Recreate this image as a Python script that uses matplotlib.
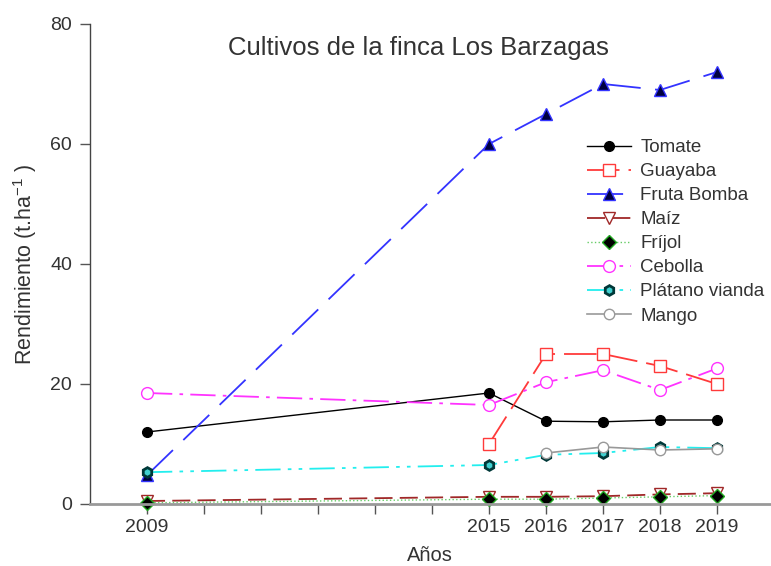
import matplotlib
matplotlib.use("Agg")
import matplotlib.pyplot as plt

# Yields (t/ha)
years = [2009, 2015, 2016, 2017, 2018, 2019]
years_late = [2015, 2016, 2017, 2018, 2019]
years_mango = [2016, 2017, 2018, 2019]

tomate = [12.0, 18.5, 13.8, 13.7, 14.0, 14.0]
guayaba = [10.0, 25.0, 25.0, 23.0, 20.0]
fruta_bomba = [4.8, 60.0, 65.0, 70.0, 69.0, 72.0]
maiz = [0.5, 1.2, 1.2, 1.3, 1.6, 1.8]
frijol = [0.2, 0.8, 0.8, 1.0, 1.2, 1.4]
cebolla = [18.5, 16.5, 20.3, 22.3, 19.0, 22.6]
platano = [5.3, 6.5, 8.2, 8.5, 9.5, 9.3]
mango = [8.5, 9.5, 9.0, 9.2]

x_ticks = list(range(2009, 2020))
x_labels = ["2009", "", "", "", "", "", "2015", "2016", "2017", "2018", "2019"]
y_ticks = [0, 20, 40, 60, 80]

plt.rcParams["font.family"] = ["Liberation Sans", "DejaVu Sans"]
plt.rcParams["mathtext.fontset"] = "custom"
plt.rcParams["mathtext.rm"] = "Liberation Sans"
plt.rcParams["mathtext.it"] = "Liberation Sans"

TEXT = "#333333"

fig = plt.figure(figsize=(7.71, 5.66), dpi=100)
ax = fig.add_axes([90 / 771, 62 / 566, 680 / 771, 480 / 566])

ax.plot(years, tomate, color="black", linewidth=1.0, marker="o",
        markersize=7, markerfacecolor="black", markeredgecolor="black",
        label="Tomate")
ax.plot(years_late, guayaba, color="#ff3a3a", linewidth=1.3,
        dashes=(18, 5), marker="s", markersize=8.5, markerfacecolor="white",
        markeredgecolor="#ff3a3a", markeredgewidth=1.0, label="Guayaba")
ax.plot(years, fruta_bomba, color="#3333ff", linewidth=1.3,
        dashes=(20, 8), marker="^", markersize=8, markerfacecolor="#000040",
        markeredgecolor="#3333ff", markeredgewidth=1.0, label="Fruta Bomba")
ax.plot(years, maiz, color="#a02828", linewidth=1.3, dashes=(10, 4),
        marker="v", markersize=8, markerfacecolor="white",
        markeredgecolor="#a02828", label="Maíz")
ax.plot(years, frijol, color="#66cc66", linewidth=1.0, linestyle=":",
        marker="D", markersize=7, markerfacecolor="black",
        markeredgecolor="#22aa22", markeredgewidth=1.0, label="Fríjol")
ax.plot(years, cebolla, color="#ff33ff", linewidth=1.3,
        dashes=(14, 4, 2, 4), marker="o", markersize=8.5,
        markerfacecolor="white", markeredgecolor="#ff33ff",
        markeredgewidth=1.0, label="Cebolla")
ax.plot(years, platano, color="#22eeee", linewidth=1.3,
        dashes=(14, 4, 2, 4, 2, 4), marker="h", markersize=7,
        markerfacecolor="#40d0d0", markeredgecolor="#003838",
        markeredgewidth=2.0, label="Plátano vianda")
ax.plot(years_mango, mango, color="#999999", linewidth=1.2, marker="o",
        markersize=7.5, markerfacecolor="white", markeredgecolor="#999999",
        markeredgewidth=1.0, label="Mango")

ax.set_xlim(2008, 2019.93)
ax.set_ylim(0, 80)
ax.set_xticks(x_ticks)
ax.set_xticklabels(x_labels)
ax.set_yticks(y_ticks)
ax.tick_params(axis="both", direction="out", length=7, width=1.0,
               colors="#555555", labelcolor=TEXT, labelsize=14, pad=6)
ax.tick_params(axis="x", pad=4)

for side in ("top", "right"):
    ax.spines[side].set_visible(False)
ax.spines["left"].set_color("#444444")
ax.spines["left"].set_linewidth(1.0)
ax.spines["bottom"].set_color("#999999")
ax.spines["bottom"].set_linewidth(2.0)
for line in ax.get_lines():
    line.set_clip_on(False)

ax.set_xlabel("Años", fontsize=14.5, color=TEXT, labelpad=7)
ax.set_ylabel(r"Rendimiento (t.ha$^{\mathregular{-1}}$ )", fontsize=15.5,
              color=TEXT, labelpad=8)

fig.text(418 / 771, 1 - 48 / 566, "Cultivos de la finca Los Barzagas",
         ha="center", va="center", fontsize=18.5, color=TEXT)

leg = ax.legend(loc="upper left", bbox_to_anchor=(587 / 771, 1 - 139 / 566),
                bbox_transform=fig.transFigure, frameon=False, fontsize=13.5,
                handlelength=2.35, handletextpad=0.5, labelspacing=0.37,
                borderaxespad=0, borderpad=0)
for text in leg.get_texts():
    text.set_color(TEXT)

fig.savefig("out.png", dpi=100)
